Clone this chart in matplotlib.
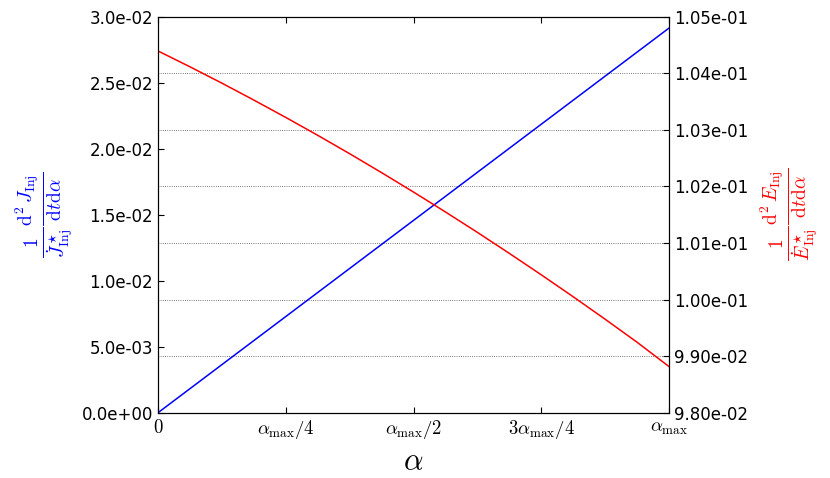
import matplotlib
matplotlib.use('Agg')
import matplotlib.pyplot as plt
from matplotlib.ticker import FormatStrFormatter

# alpha as fraction of alpha_max
alpha_frac = [0.0, 0.0625, 0.125, 0.1875, 0.25, 0.3125, 0.375, 0.4375, 0.5,
              0.5625, 0.625, 0.6875, 0.75, 0.8125, 0.875, 0.9375, 1.0]
# angular momentum injection (left axis)
dJ = [0.0, 0.001821, 0.003643, 0.005464, 0.007285, 0.009106, 0.010928, 0.012749, 0.01457,
      0.016391, 0.018213, 0.020034, 0.021855, 0.023676, 0.025498, 0.027319, 0.02914]
# energy injection (right axis)
dE = [0.104394, 0.104114, 0.103825, 0.103526, 0.103219, 0.102903, 0.102578, 0.102243, 0.101900,
      0.101548, 0.101187, 0.100816, 0.100437, 0.100049, 0.099652, 0.099245, 0.098815]

xtick_pos = [0.0, 0.25, 0.5, 0.75, 1.0]
xtick_labels = [r'$0$', r'$\alpha_{\rm max}/4$', r'$\alpha_{\rm max}/2$',
                r'$3\alpha_{\rm max}/4$', r'$\alpha_{\rm max}$']

plt.rcParams['mathtext.fontset'] = 'cm'
plt.rcParams['font.size'] = 12
plt.rcParams['xtick.direction'] = 'in'
plt.rcParams['ytick.direction'] = 'in'

fig = plt.figure(figsize=(8.3, 4.78), dpi=100)
ax1 = fig.add_axes([0.1904, 0.1366, 0.6157, 0.8285])
ax2 = ax1.twinx()

ax1.plot(alpha_frac, dJ, color='b', lw=1.1)
ax2.plot(alpha_frac, dE, color='r', lw=1.1)

ax1.set_xlim(0, 1)
ax1.set_ylim(0, 0.03)
ax2.set_ylim(0.098, 0.105)
ax1.set_yticks([0, 0.005, 0.01, 0.015, 0.02, 0.025, 0.03])
ax2.set_yticks([0.098, 0.099, 0.100, 0.101, 0.102, 0.103, 0.104, 0.105])
ax1.yaxis.set_major_formatter(FormatStrFormatter('%.1e'))
ax2.yaxis.set_major_formatter(FormatStrFormatter('%.2e'))

ax1.set_xticks(xtick_pos)
ax1.set_xticklabels(xtick_labels, fontsize=13.5)
ax1.tick_params(axis='x', top=True, length=4, pad=4)
ax1.tick_params(axis='y', length=4)
ax2.tick_params(axis='y', length=4)

# dotted grid follows the right-hand axis
ax2.yaxis.grid(True, linestyle=':', color='k', linewidth=0.6, alpha=0.7)

ax1.set_xlabel(r'$\alpha$', fontsize=22)
ax1.set_ylabel(r'$\frac{1}{\dot{J}^\star_{\rm Inj}}\frac{{\rm d}^2\,J_{\rm Inj}}{{\rm d}t{\rm d}\alpha}$',
               color='b', fontsize=20)
ax2.set_ylabel(r'$\frac{1}{\dot{E}^\star_{\rm Inj}}\frac{{\rm d}^2\,E_{\rm Inj}}{{\rm d}t{\rm d}\alpha}$',
               color='r', fontsize=20, labelpad=8)

fig.savefig('out.png', dpi=100)
